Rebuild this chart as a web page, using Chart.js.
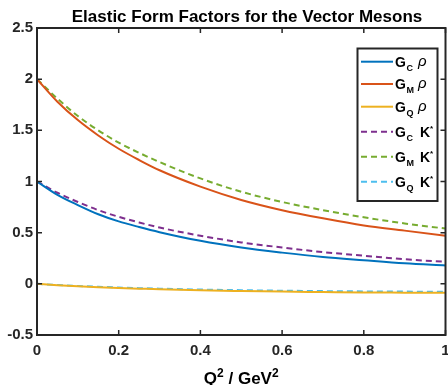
<!DOCTYPE html>
<html>
<head>
<meta charset="utf-8">
<script src="https://cdn.jsdelivr.net/npm/chart.js@4"></script>
<style>html,body{margin:0;padding:0;background:#fff}</style>
</head>
<body>
<div style="position:relative;width:448px;height:385px">
  <canvas id="chart" width="448" height="385"></canvas>
</div>
<script>
// Q^2 sample points (GeV^2)
const q2 = [0, 0.05, 0.1, 0.15, 0.2, 0.25, 0.3, 0.4, 0.5, 0.6, 0.7, 0.8, 0.9, 1.0];
const gcRho = [1.00, 0.87, 0.77, 0.68, 0.61, 0.555, 0.505, 0.42, 0.355, 0.305, 0.262, 0.23, 0.20, 0.18];
const gmRho = [2.00, 1.78, 1.60, 1.45, 1.32, 1.21, 1.11, 0.95, 0.82, 0.72, 0.64, 0.57, 0.52, 0.47];
const gqRho = [0, -0.013, -0.024, -0.033, -0.041, -0.047, -0.053, -0.063, -0.070, -0.076, -0.080, -0.084, -0.086, -0.088];
const gcK = [1.00, 0.89, 0.80, 0.72, 0.655, 0.60, 0.55, 0.47, 0.405, 0.355, 0.31, 0.275, 0.24, 0.215];
const gmK = [2.00, 1.81, 1.64, 1.50, 1.38, 1.28, 1.19, 1.03, 0.90, 0.80, 0.72, 0.65, 0.59, 0.54];
const gqK = [0, -0.011, -0.021, -0.029, -0.036, -0.042, -0.047, -0.056, -0.062, -0.067, -0.071, -0.074, -0.076, -0.078];

const xTicks = [0, 0.2, 0.4, 0.6, 0.8, 1];
const yTicks = [-0.5, 0, 0.5, 1, 1.5, 2, 2.5];

const FONT = '"Liberation Sans", Arial, sans-serif';
const TITLE = "Elastic Form Factors for the Vector Mesons";

const series = [
  {sub: "C", name: "ρ", data: gcRho, color: "#0072BD", dash: []},
  {sub: "M", name: "ρ", data: gmRho, color: "#D95319", dash: []},
  {sub: "Q", name: "ρ", data: gqRho, color: "#EDB120", dash: []},
  {sub: "C", name: "K", data: gcK, color: "#7E2F8E", dash: [6, 4]},
  {sub: "M", name: "K", data: gmK, color: "#77AC30", dash: [6, 4]},
  {sub: "Q", name: "K", data: gqK, color: "#4DBEEE", dash: [6, 4]},
];
const legendY = [61.7, 84, 106.7, 131.7, 156.7, 181.7];

// box, inward ticks, title, legend and x label drawn by hand (MATLAB look)
const frame = {
  id: "frame",
  afterDraw(chart) {
    const {ctx, chartArea: a, scales: {x, y}} = chart;
    ctx.save();
    ctx.strokeStyle = "#262626";
    ctx.lineWidth = 2;
    ctx.strokeRect(a.left, a.top, a.right - a.left, a.bottom - a.top);
    ctx.lineWidth = 1.5;
    ctx.beginPath();
    xTicks.forEach(v => {
      const px = x.getPixelForValue(v);
      ctx.moveTo(px, a.bottom); ctx.lineTo(px, a.bottom - 5);
      ctx.moveTo(px, a.top); ctx.lineTo(px, a.top + 5);
    });
    yTicks.forEach(v => {
      const py = y.getPixelForValue(v);
      ctx.moveTo(a.left, py); ctx.lineTo(a.left + 5, py);
      ctx.moveTo(a.right, py); ctx.lineTo(a.right - 5, py);
    });
    ctx.stroke();

    // title
    ctx.fillStyle = "#000";
    ctx.textAlign = "center";
    ctx.textBaseline = "alphabetic";
    ctx.font = "bold 17px " + FONT;
    ctx.fillText(TITLE, 247, 21.5);

    // legend
    ctx.textAlign = "left";
    ctx.fillStyle = "#fff";
    ctx.fillRect(357.5, 48.5, 80, 152.5);
    ctx.lineWidth = 2;
    ctx.strokeRect(357.5, 48.5, 80, 152.5);
    series.forEach((s, i) => {
      const yc = legendY[i];
      ctx.strokeStyle = s.color;
      ctx.lineWidth = 2;
      ctx.setLineDash(s.dash);
      ctx.beginPath();
      ctx.moveTo(361, yc); ctx.lineTo(393, yc);
      ctx.stroke();
      ctx.setLineDash([]);
      ctx.fillStyle = "#000";
      ctx.font = "bold 14px " + FONT;
      ctx.fillText("G", 395, yc + 5);
      const gw = ctx.measureText("G").width;
      ctx.font = "bold 9px " + FONT;
      ctx.fillText(s.sub, 395 + gw + 0.5, yc + 9);
      if (s.name === "ρ") {
        ctx.font = "italic 15px " + FONT;
        ctx.fillText("ρ", 418, yc + 4);
      } else {
        ctx.font = "bold 14px " + FONT;
        ctx.fillText("K", 420, yc + 5);
        const kw = ctx.measureText("K").width;
        ctx.font = "bold 8px " + FONT;
        ctx.fillText("*", 420 + kw, yc - 0.5);
      }
    });

    // x axis label: Q² / GeV²
    const parts = [["Q", 17, 0], ["2", 12, -7], [" / GeV", 17, 0], ["2", 12, -7]];
    ctx.fillStyle = "#000";
    let w = 0;
    parts.forEach(p => { ctx.font = "bold " + p[1] + "px " + FONT; w += ctx.measureText(p[0]).width; });
    let cx = (a.left + a.right) / 2 - w / 2;
    parts.forEach(p => {
      ctx.font = "bold " + p[1] + "px " + FONT;
      ctx.fillText(p[0], cx, 384 + p[2]);
      cx += ctx.measureText(p[0]).width;
    });
    ctx.restore();
  }
};

new Chart(document.getElementById("chart"), {
  type: "line",
  data: {
    datasets: series.map(s => ({
      label: s.sub + " " + s.name,
      data: q2.map((q, i) => ({x: q, y: s.data[i]})),
      borderColor: s.color,
      borderWidth: 2,
      borderDash: s.dash,
      pointRadius: 0,
      fill: false,
      cubicInterpolationMode: "monotone",
    })),
  },
  options: {
    responsive: false,
    animation: false,
    layout: {padding: {left: 0, right: 2.5, top: 28, bottom: 0}},
    plugins: {
      legend: {display: false},
      tooltip: {enabled: false},
      title: {display: false},
    },
    scales: {
      x: {
        type: "linear",
        min: 0, max: 1,
        grid: {display: false, drawTicks: false},
        border: {display: false},
        afterBuildTicks: s => { s.ticks = xTicks.map(v => ({value: v})); },
        afterFit: s => { s.height = 50; s.paddingLeft = 0; s.paddingRight = 0; },
        ticks: {
          autoSkip: false, maxRotation: 0, padding: 7, color: "#262626",
          font: {family: FONT, size: 15, weight: "bold"},
          callback: v => String(+v.toFixed(1)),
        },
      },
      y: {
        min: -0.5, max: 2.5,
        grid: {display: false, drawTicks: false},
        border: {display: false},
        afterBuildTicks: s => { s.ticks = yTicks.map(v => ({value: v})); },
        afterFit: s => { s.width = 37; s.paddingTop = 0; s.paddingBottom = 0; },
        ticks: {
          autoSkip: false, padding: 4, color: "#262626",
          font: {family: FONT, size: 15, weight: "bold"},
          callback: v => String(+v.toFixed(1)),
        },
      },
    },
  },
  plugins: [frame],
});
</script>
</body>
</html>
